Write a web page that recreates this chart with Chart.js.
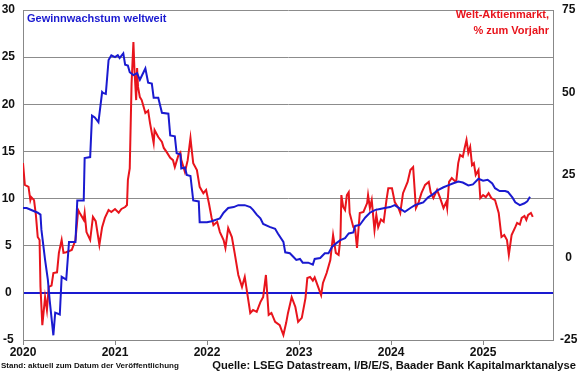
<!DOCTYPE html>
<html>
<head>
<meta charset="utf-8">
<script src="https://cdn.jsdelivr.net/npm/chart.js@4.4.1/dist/chart.umd.min.js"></script>
<style>
  body { margin: 0; background: #fff; }
  #wrap { position: relative; width: 580px; height: 375px; font-family: "Liberation Sans", Arial, sans-serif; }
  canvas { position: absolute; left: 0; top: 0; }
  .lbl { position: absolute; font-weight: bold; white-space: nowrap; }
</style>
</head>
<body>
<div id="wrap">
  <canvas id="chart" width="580" height="375"></canvas>
  <div class="lbl" style="left:27px; top:12px; font-size:11px; color:#1a1ad0;">Gewinnwachstum weltweit</div>
  <div class="lbl" style="right:31px; top:6px; font-size:11px; color:#e8141c; text-align:right; line-height:16px;">Welt-Aktienmarkt,<br>% zum Vorjahr</div>
  <div class="lbl" style="left:1px; top:361px; font-size:8px; color:#111;">Stand: aktuell zum Datum der Veröffentlichung</div>
  <div class="lbl" style="right:4px; top:359px; font-size:11.2px; color:#111;">Quelle: LSEG Datastream, I/B/E/S, Baader Bank Kapitalmarktanalyse</div>
</div>
<script>
// Gewinnwachstum weltweit (linke Achse, %)
const earnDates = [2020.00, 2020.04, 2020.16, 2020.19, 2020.20, 2020.24, 2020.27, 2020.29, 2020.33, 2020.35,
  2020.40, 2020.42, 2020.47, 2020.50, 2020.57, 2020.59, 2020.66, 2020.67, 2020.73, 2020.75,
  2020.78, 2020.82, 2020.86, 2020.87, 2020.90, 2020.93, 2020.96, 2021.00, 2021.03, 2021.05,
  2021.09, 2021.11, 2021.14, 2021.16, 2021.20, 2021.24, 2021.27, 2021.33, 2021.36, 2021.40,
  2021.42, 2021.47, 2021.51, 2021.58, 2021.60, 2021.65, 2021.67, 2021.71, 2021.72, 2021.76,
  2021.78, 2021.82, 2021.85, 2021.91, 2021.92, 2022.00, 2022.05, 2022.14, 2022.18, 2022.23,
  2022.29, 2022.34, 2022.41, 2022.47, 2022.50, 2022.54, 2022.58, 2022.61, 2022.68, 2022.74,
  2022.77, 2022.83, 2022.85, 2022.90, 2022.94, 2022.97, 2023.01, 2023.04, 2023.10, 2023.15,
  2023.17, 2023.23, 2023.28, 2023.32, 2023.36, 2023.41, 2023.45, 2023.50, 2023.54, 2023.59,
  2023.61, 2023.66, 2023.72, 2023.77, 2023.83, 2023.88, 2023.93, 2023.99, 2024.04, 2024.10,
  2024.15, 2024.21, 2024.26, 2024.32, 2024.35, 2024.40, 2024.46, 2024.51, 2024.57, 2024.62,
  2024.67, 2024.73, 2024.78, 2024.84, 2024.89, 2024.95, 2025.00, 2025.05, 2025.10, 2025.13,
  2025.18, 2025.24, 2025.27, 2025.32, 2025.35, 2025.40, 2025.45, 2025.48, 2025.51];
const earnValues = [9.0, 9.0, 8.5, 8.3, 6.7, 3.5, 1.4, -0.8, -4.5, -2.1,
  -2.3, 1.7, 1.4, 5.4, 5.4, 9.8, 9.8, 14.3, 14.4, 18.8,
  18.6, 18.1, 21.3, 21.2, 21.1, 24.7, 25.2, 25.0, 25.2, 24.9,
  25.4, 24.2, 24.1, 23.4, 23.1, 23.3, 22.6, 23.8, 22.3, 22.2,
  20.7, 20.7, 19.1, 19.0, 16.7, 16.6, 14.8, 14.7, 13.2, 13.3,
  12.5, 12.4, 9.8, 9.7, 7.5, 7.5, 7.6, 7.9, 8.5, 9.0,
  9.1, 9.3, 9.3, 9.1, 8.8, 8.3, 7.9, 7.3, 7.0, 6.8,
  6.3, 5.4, 4.3, 4.2, 3.8, 3.5, 3.6, 3.2, 3.2, 3.0,
  3.6, 3.7, 4.2, 4.2, 4.9, 5.3, 5.6, 5.8, 6.3, 6.4,
  7.1, 7.2, 8.0, 8.5, 8.8, 8.9, 9.0, 9.1, 9.3, 8.9,
  8.6, 9.0, 9.3, 9.5, 9.6, 10.1, 10.5, 10.9, 11.2, 11.4,
  11.6, 11.8, 11.7, 11.4, 11.5, 12.1, 11.9, 12.0, 11.6, 11.1,
  10.8, 10.8, 10.7, 10.1, 9.6, 9.3, 9.5, 9.7, 10.2];

// Welt-Aktienmarkt, % zum Vorjahr (rechte Achse)
const stockDates = [2020.00, 2020.02, 2020.06, 2020.08, 2020.09, 2020.12, 2020.14, 2020.16, 2020.18, 2020.19,
  2020.21, 2020.24, 2020.26, 2020.28, 2020.31, 2020.33, 2020.37, 2020.39, 2020.42, 2020.44,
  2020.47, 2020.53, 2020.57, 2020.60, 2020.62, 2020.66, 2020.67, 2020.69, 2020.73, 2020.76,
  2020.79, 2020.83, 2020.86, 2020.89, 2020.93, 2020.96, 2021.00, 2021.04, 2021.07, 2021.11,
  2021.13, 2021.14, 2021.16, 2021.18, 2021.20, 2021.21, 2021.23, 2021.24, 2021.25, 2021.27,
  2021.29, 2021.33, 2021.36, 2021.38, 2021.42, 2021.43, 2021.47, 2021.51, 2021.53, 2021.56,
  2021.60, 2021.63, 2021.65, 2021.69, 2021.71, 2021.72, 2021.76, 2021.79, 2021.82, 2021.83,
  2021.85, 2021.89, 2021.92, 2021.96, 2021.99, 2022.02, 2022.05, 2022.07, 2022.11, 2022.14,
  2022.18, 2022.20, 2022.23, 2022.27, 2022.30, 2022.34, 2022.38, 2022.41, 2022.47, 2022.50,
  2022.54, 2022.58, 2022.61, 2022.64, 2022.67, 2022.70, 2022.74, 2022.79, 2022.83, 2022.86,
  2022.88, 2022.92, 2022.96, 2022.99, 2023.03, 2023.07, 2023.09, 2023.12, 2023.15, 2023.17,
  2023.24, 2023.26, 2023.30, 2023.34, 2023.37, 2023.40, 2023.43, 2023.45, 2023.46, 2023.48,
  2023.50, 2023.52, 2023.54, 2023.55, 2023.59, 2023.61, 2023.63, 2023.66, 2023.70, 2023.74,
  2023.75, 2023.77, 2023.79, 2023.82, 2023.84, 2023.86, 2023.89, 2023.92, 2023.95, 2023.97,
  2024.01, 2024.04, 2024.08, 2024.10, 2024.13, 2024.18, 2024.21, 2024.24, 2024.27, 2024.30,
  2024.33, 2024.37, 2024.41, 2024.43, 2024.46, 2024.50, 2024.53, 2024.57, 2024.60, 2024.61,
  2024.63, 2024.66, 2024.70, 2024.71, 2024.73, 2024.75, 2024.78, 2024.80, 2024.82, 2024.84,
  2024.86, 2024.88, 2024.90, 2024.92, 2024.95, 2024.97, 2025.00, 2025.03, 2025.06, 2025.09,
  2025.13, 2025.17, 2025.20, 2025.23, 2025.26, 2025.28, 2025.31, 2025.35, 2025.37, 2025.40,
  2025.42, 2025.45, 2025.47, 2025.49, 2025.52, 2025.54];
const stockValues = [28.6, 22.0, 21.4, 17.4, 18.3, 17.4, 12.9, 6.2, 5.3, -8.9,
  -20.5, -12.0, -15.9, -8.9, -8.5, -4.7, -4.5, 1.4, 5.3, 1.4,
  1.6, 2.3, 5.3, 14.4, 13.3, 11.4, 13.5, 7.7, 5.3, 12.3,
  11.0, 3.8, 9.2, 12.0, 14.4, 13.8, 14.7, 13.6, 14.7, 15.3,
  15.9, 23.5, 27.0, 52.8, 65.3, 57.7, 47.7, 57.4, 51.7, 48.6,
  47.7, 43.8, 44.5, 40.8, 34.7, 38.6, 36.5, 35.0, 33.2, 32.0,
  30.2, 29.5, 27.4, 31.1, 31.8, 29.6, 25.9, 29.5, 36.2, 33.5,
  28.6, 26.5, 21.4, 19.5, 20.5, 16.5, 12.0, 9.8, 10.8, 7.7,
  5.3, 2.9, 8.9, 6.2, 1.4, -5.3, -8.9, -5.9, -16.8, -15.9,
  -16.5, -13.5, -12.0, -5.3, -17.4, -16.8, -19.5, -20.5, -23.5, -19.8,
  -16.8, -12.0, -15.0, -19.5, -18.3, -12.3, -6.2, -5.9, -7.0, -6.0,
  -11.4, -7.7, -4.7, -0.8, 6.8, 1.4, 0.8, 5.9, 18.9, 15.3,
  14.4, 18.9, 19.8, 13.5, 9.2, 8.5, 2.9, 13.5, 13.8, 16.5,
  18.9, 15.0, 17.4, 8.3, 12.9, 9.2, 11.5, 10.8, 17.4, 21.0,
  21.0, 16.8, 15.0, 13.5, 19.5, 22.9, 26.5, 27.4, 15.0, 16.8,
  19.5, 22.0, 22.9, 19.8, 18.0, 20.5, 18.3, 15.0, 16.8, 15.0,
  22.9, 24.1, 23.0, 23.5, 28.6, 31.1, 30.5, 33.2, 35.6, 31.7,
  33.5, 28.0, 28.6, 25.0, 26.5, 18.0, 18.9, 18.3, 19.5, 18.0,
  17.4, 13.5, 6.2, 6.8, 5.3, 0.8, 6.8, 9.2, 10.5, 10.0,
  12.0, 12.6, 11.4, 12.9, 13.5, 12.3];

const yearTicks = [2020, 2021, 2022, 2023, 2024, 2025];
const leftTicks = [-5, 0, 5, 10, 15, 20, 25, 30];
const rightTicks = [-25, 0, 25, 50, 75];

const toPoints = (xs, ys) => xs.map((x, i) => ({ x: x, y: ys[i] }));

const tickFont = { family: '"Liberation Sans", Arial, sans-serif', size: 12, weight: 'bold' };

// feste Achsbreiten, damit die Zeichenfläche bei x 23..553, y 10..340 liegt
const fixY = (w) => (s) => { s.width = w; s.paddingTop = 0; s.paddingBottom = 0; };

new Chart(document.getElementById('chart'), {
  type: 'line',
  data: {
    datasets: [{
      label: 'Gewinnwachstum weltweit',
      data: toPoints(earnDates, earnValues),
      borderColor: '#1a1ad0',
      borderWidth: 2,
      pointRadius: 0,
      tension: 0,
      yAxisID: 'y'
    }, {
      label: 'Welt-Aktienmarkt, % zum Vorjahr',
      data: toPoints(stockDates, stockValues),
      borderColor: '#e8141c',
      borderWidth: 2,
      pointRadius: 0,
      tension: 0,
      yAxisID: 'y1'
    }]
  },
  options: {
    responsive: false,
    animation: false,
    layout: { padding: { top: 10, left: 0, right: 0, bottom: 0 } },
    plugins: { legend: { display: false }, tooltip: { enabled: false } },
    scales: {
      x: {
        type: 'linear',
        min: 2020,
        max: 2025.76,
        afterBuildTicks: (s) => { s.ticks = yearTicks.map(v => ({ value: v })); },
        afterFit: (s) => { s.height = 35; s.paddingLeft = 0; s.paddingRight = 0; },
        ticks: { font: tickFont, color: '#111', padding: 0, maxRotation: 0, callback: (v) => String(v) },
        grid: { drawOnChartArea: false, drawTicks: true, tickLength: 5, color: '#888' },
        border: { color: '#888', width: 1 }
      },
      y: {
        position: 'left',
        min: -5,
        max: 30,
        afterBuildTicks: (s) => { s.ticks = leftTicks.map(v => ({ value: v })); },
        afterFit: fixY(23),
        ticks: { font: tickFont, color: '#111', padding: 8, crossAlign: 'center' },
        grid: {
          drawTicks: false,
          color: (c) => c.tick && c.tick.value === 0 ? '#1a1ad0' : '#8c8c8c',
          lineWidth: (c) => c.tick && c.tick.value === 0 ? 2 : 1
        },
        border: { color: '#888', width: 1 }
      },
      y1: {
        position: 'right',
        min: -25,
        max: 75,
        afterBuildTicks: (s) => { s.ticks = rightTicks.map(v => ({ value: v })); },
        afterFit: fixY(27),
        ticks: { font: tickFont, color: '#111', padding: 7, crossAlign: 'center' },
        grid: { drawOnChartArea: false, drawTicks: false },
        border: { color: '#888', width: 1 }
      }
    }
  }
});
</script>
</body>
</html>
